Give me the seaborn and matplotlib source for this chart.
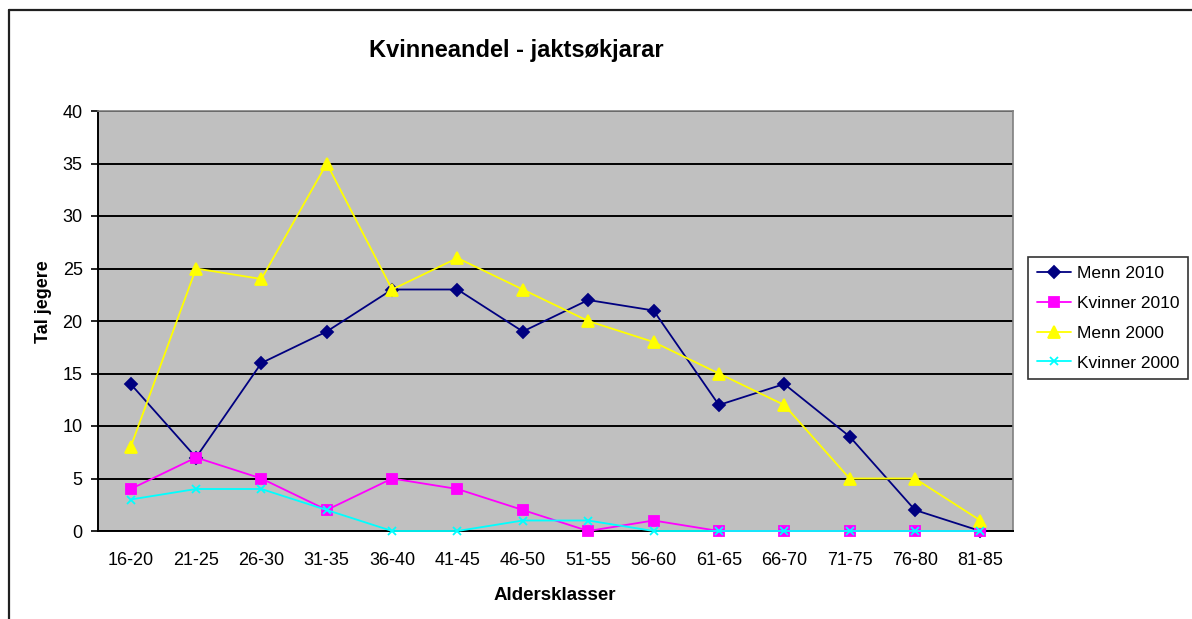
import matplotlib
matplotlib.use("Agg")
import matplotlib.pyplot as plt
from matplotlib.lines import Line2D
import seaborn as sns
import pandas as pd

categories = ["16-20", "21-25", "26-30", "31-35", "36-40", "41-45", "46-50",
              "51-55", "56-60", "61-65", "66-70", "71-75", "76-80", "81-85"]
menn_2010 = [14, 7, 16, 19, 23, 23, 19, 22, 21, 12, 14, 9, 2, 0]
kvinner_2010 = [4, 7, 5, 2, 5, 4, 2, 0, 1, 0, 0, 0, 0, 0]
menn_2000 = [8, 25, 24, 35, 23, 26, 23, 20, 18, 15, 12, 5, 5, 1]
kvinner_2000 = [3, 4, 4, 2, 0, 0, 1, 1, 0, 0, 0, 0, 0, 0]
y_ticks = [0, 5, 10, 15, 20, 25, 30, 35, 40]

series = [
    ("Menn 2010", menn_2010, "#000080", "D", 6),
    ("Kvinner 2010", kvinner_2010, "#FF00FF", "s", 7),
    ("Menn 2000", menn_2000, "#FFFF00", "^", 8),
    ("Kvinner 2000", kvinner_2000, "#00FFFF", "x", 6),
]

sns.set_theme(style="white")
plt.rcParams["font.family"] = ["Liberation Sans", "DejaVu Sans"]
plt.rcParams["text.color"] = "black"
plt.rcParams["xtick.color"] = "black"
plt.rcParams["ytick.color"] = "black"
plt.rcParams["axes.labelcolor"] = "black"

fig = plt.figure(figsize=(11.92, 6.19), dpi=100)
ax = fig.add_axes([98 / 1192, 1 - 531 / 619, (1013 - 98) / 1192, (531 - 111) / 619])
ax.set_facecolor("#C0C0C0")

xpos = list(range(len(categories)))
for i, (name, vals, color, marker, ms) in enumerate(series):
    df = pd.DataFrame({"x": xpos, "y": vals})
    sns.lineplot(data=df, x="x", y="y", ax=ax, color=color, marker=marker,
                 markersize=ms, markeredgecolor=color, markeredgewidth=1.3,
                 linewidth=1.3, label=name, legend=False, clip_on=False, zorder=4 + i)

ax.set_xlim(-0.5, len(categories) - 0.5)
ax.set_ylim(0, 40)
ax.set_yticks(y_ticks)
ax.set_yticklabels([str(v) for v in y_ticks], fontsize=13)
ax.yaxis.grid(True, color="black", linewidth=1.4)
ax.set_axisbelow(True)
ax.set_xticks(xpos)
ax.set_xticklabels(categories, fontsize=13)
ax.set_xticks([i - 0.5 for i in range(len(categories) + 1)], minor=True)
ax.tick_params(axis="x", which="major", length=0, pad=15)
ax.tick_params(axis="x", which="minor", length=5, width=1.2, color="black", direction="out")
ax.tick_params(axis="y", length=5, width=1.2, color="black", direction="out", left=True, pad=6)
ax.set_xlabel("")
ax.set_ylabel("")

for side in ["left", "bottom"]:
    ax.spines[side].set_color("black")
    ax.spines[side].set_linewidth(1.4)
for side in ["top", "right"]:
    ax.spines[side].set_color("#808080")
    ax.spines[side].set_linewidth(1.2)

fig.text(516 / 1192, 1 - 50 / 619, "Kvinneandel - jaktsøkjarar", ha="center", va="center",
         fontsize=17, fontweight="bold")
fig.text(43 / 1192, 1 - 302 / 619, "Tal jegere", ha="center", va="center", rotation=90,
         fontsize=13, fontweight="bold")
fig.text(555 / 1192, 1 - 595 / 619, "Aldersklasser", ha="center", va="center",
         fontsize=13.5, fontweight="bold")

handles, labels = ax.get_legend_handles_labels()
leg = fig.legend(handles, labels, loc="upper left", bbox_to_anchor=(1028 / 1192, 1 - 257 / 619),
                 fontsize=12.5, frameon=True, fancybox=False, borderaxespad=0,
                 handlelength=2.0, labelspacing=0.85, borderpad=0.5, handletextpad=0.3)
leg.get_frame().set_edgecolor("black")
leg.get_frame().set_linewidth(1.2)

fig.add_artist(Line2D([9 / 1192, 1.0], [1 - 10 / 619, 1 - 10 / 619], transform=fig.transFigure,
                      color="#202020", linewidth=1.6))
fig.add_artist(Line2D([9 / 1192, 9 / 1192], [0.0, 1 - 10 / 619], transform=fig.transFigure,
                      color="#202020", linewidth=1.6))

fig.savefig("out.png", dpi=100, facecolor="white")
